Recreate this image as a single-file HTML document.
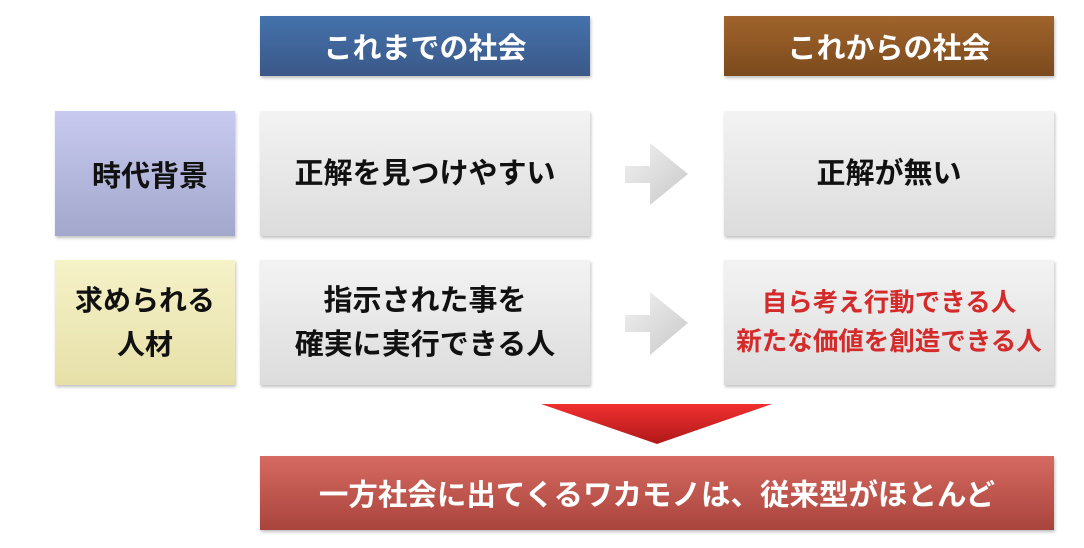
<!DOCTYPE html>
<html><head><meta charset="utf-8"><style>
body{margin:0;width:1084px;height:548px;background:#fff;position:relative;overflow:hidden;font-family:"Liberation Sans","Noto Sans CJK JP",sans-serif;font-weight:bold}
.b{position:absolute;display:flex;align-items:center;justify-content:center;text-align:center;box-shadow:1px 2px 3px rgba(0,0,0,0.25);white-space:nowrap}
.h{color:#fff;font-size:29px}
.g{background:linear-gradient(#f3f3f3,#dcdcdc);color:#111;font-size:29px;line-height:44px}
</style></head><body>
<div class="b h" style="left:260px;top:16px;width:330px;height:60px;background:linear-gradient(#4472ac,#3b5888)">これまでの社会</div>
<div class="b h" style="left:724px;top:16px;width:330px;height:60px;background:linear-gradient(#a0642c,#7b4a1d)">これからの社会</div>
<div class="b" style="left:55px;top:111px;width:180px;height:125px;background:linear-gradient(#c8caf0,#a3a7cc);font-size:29px;color:#111"><span style="margin-left:10px">時代背景</span></div>
<div class="b g" style="left:260px;top:111px;width:330px;height:125px">正解を見つけやすい</div>
<div class="b g" style="left:724px;top:111px;width:330px;height:125px">正解が無い</div>
<div class="b" style="left:55px;top:260px;width:180px;height:125px;background:linear-gradient(#f5f2c8,#e6e0a8);font-size:28px;color:#111;line-height:44px">求められる<br>人材</div>
<div class="b g" style="left:260px;top:260px;width:330px;height:125px">指示された事を<br>確実に実行できる人</div>
<div class="b g" style="left:724px;top:260px;width:330px;height:125px;color:#d42a2a;font-size:25.5px;line-height:39px">自ら考え行動できる人<br>新たな価値を創造できる人</div>
<svg style="position:absolute;left:0;top:0" width="1084" height="548">
<defs><linearGradient id="a" x1="0" y1="0" x2="1" y2="1"><stop offset="0" stop-color="#f2f2f2"/><stop offset="1" stop-color="#c8c8c8"/></linearGradient>
<linearGradient id="r" x1="0" y1="0" x2="0" y2="1"><stop offset="0" stop-color="#f03030"/><stop offset="1" stop-color="#b01818"/></linearGradient></defs>
<polygon points="625,166 650,166 650,143 688,174 650,205 650,183 625,183" fill="url(#a)"/>
<polygon points="625,315 650,315 650,292 688,323 650,355 650,332 625,332" fill="url(#a)"/>
<polygon points="541,404 772,404 657,444" fill="url(#r)"/>
</svg>
<div class="b h" style="left:260px;top:456px;width:794px;height:74px;background:linear-gradient(#d66a62,#a8443c);font-size:29.5px">一方社会に出てくるワカモノは、従来型がほとんど</div>
</body></html>
